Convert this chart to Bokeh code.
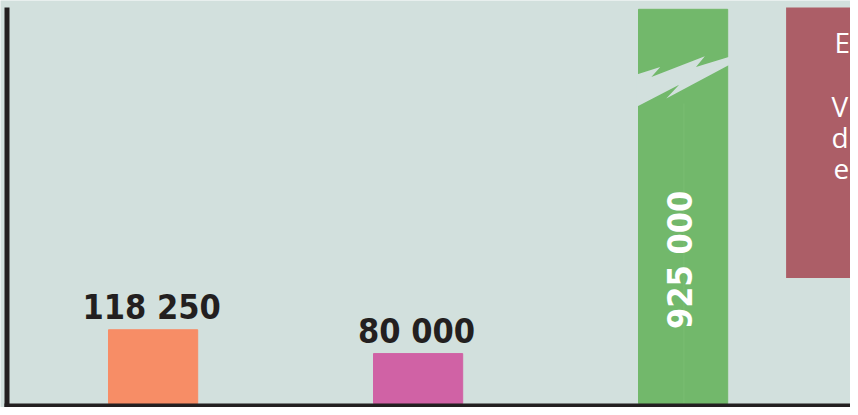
import math
from bokeh.plotting import figure
from bokeh.models import Range1d, ColumnDataSource
from bokeh.core.properties import value
from bokeh.embed import file_html
from bokeh.resources import INLINE

# ---- data ----
categories = ["A", "B", "C"]
values = [118250, 80000, 925000]
value_labels = ["118 250", "80 000", "925 000"]
bar_colors = ["#F78D66", "#D062A5", "#72B86B"]
note_letters = ["E", "V", "d", "e"]

# ---- styling / layout constants (pixels of the figure) ----
BG = "#D2E0DD"
DARK = "#231F20"
NOTE_COLOR = "#AC5E67"
W, H = 850, 407
PX_PER_CAT = 265.0          # horizontal pixels per category
PX_PER_UNIT = 0.0006237     # vertical pixels per value unit
BASE_PX = 4                 # pixels between frame bottom and value 0
BAR_W = 89.2 / PX_PER_CAT
FIRST_CAT_PX = 152.6        # pixel from frame left to first category centre
SY = 0.98
BREAK_CAP = (H - BASE_PX - 8.8) / PX_PER_UNIT   # displayed top of a broken bar

x_start = -FIRST_CAT_PX / PX_PER_CAT
x_end = x_start + W / PX_PER_CAT
y_start = -BASE_PX / PX_PER_UNIT
y_end = y_start + H / PX_PER_UNIT

def px_x(px):   # frame pixel from left -> data x
    return x_start + px / PX_PER_CAT

def px_y(py):   # frame pixel from top -> data y
    return y_end - py / PX_PER_UNIT

p = figure(width=W, height=H, x_range=Range1d(x_start, x_end), y_range=Range1d(y_start, y_end),
           x_axis_location=None, y_axis_location=None, toolbar_location=None,
           output_backend="svg", min_border=0, outline_line_color=None,
           background_fill_color=BG, border_fill_color=BG)
p.grid.grid_line_color = None

xs = list(range(len(categories)))
shown = [min(v, BREAK_CAP) for v in values]
src = ColumnDataSource(dict(x=xs, top=shown, color=bar_colors))
p.vbar(x="x", top="top", bottom=0, width=BAR_W, color="color", source=src)

# break marks on bars that exceed the cap (lightning-shaped gap)
BREAK_SHAPE = [(-0.02, 66.5), (0.244, 59), (0.144, 69), (0.744, 48), (0.644, 59), (1.02, 48.5),
               (1.02, 56.5), (0.311, 91), (0.456, 77), (-0.02, 99.5)]
for xi, v, top in zip(xs, values, shown):
    if v > BREAK_CAP:
        gx = [xi + (fx - 0.5) * BAR_W for fx, _ in BREAK_SHAPE]
        gy = [top - py * SY / PX_PER_UNIT for _, py in BREAK_SHAPE]
        p.patch(gx, gy, color=BG, line_width=0)
        p.segment(x0=[xi + 0.003], y0=[0], x1=[xi + 0.003], y1=[top - 96 * SY / PX_PER_UNIT],
                  line_color="#7CBF74", line_width=1, line_alpha=0.8)

# value labels
above = [i for i, v in enumerate(values) if v <= BREAK_CAP]
inside = [i for i, v in enumerate(values) if v > BREAK_CAP]
p.text(x=[xs[i] for i in above], y=[values[i] for i in above], text=[value_labels[i] for i in above],
       text_font=value("DejaVu Sans Condensed"), text_font_style="bold", text_font_size="34px",
       text_align="center", text_baseline="middle", y_offset=-23, x_offset=-1.5, text_color=DARK)
p.text(x=[xs[i] for i in inside], y=[0 for i in inside], text=[value_labels[i] for i in inside],
       angle=math.pi / 2, text_font=value("DejaVu Sans Condensed"), text_font_style="bold",
       text_font_size="34px", text_align="left", text_baseline="middle",
       x_offset=-3, y_offset=-74.5, text_color="white")

# note box (cut off at right)
p.quad(left=[px_x(785.6)], right=[x_end + 0.2], top=[px_y(6.9)], bottom=[px_y(277.5)],
       color=NOTE_COLOR, line_width=0)
note_px = [(834, 41.5), (831, 105), (831, 136.5), (833, 168)]
p.text(x=[px_x(a) for a, _ in note_px], y=[px_y(b) for _, b in note_px], text=note_letters,
       text_font=value("Open Sans"), text_font_size="28px", text_align="left",
       text_baseline="middle", text_color="white")

# axis lines
p.segment(x0=[px_x(6.5)], y0=[px_y(6.9)], x1=[px_x(6.5)], y1=[y_start],
          line_color=DARK, line_width=5)
p.segment(x0=[px_x(4)], y0=[px_y(H - 2)], x1=[x_end], y1=[px_y(H - 2)],
          line_color=DARK, line_width=4)

open("out.html", "w").write(file_html(p, INLINE))
